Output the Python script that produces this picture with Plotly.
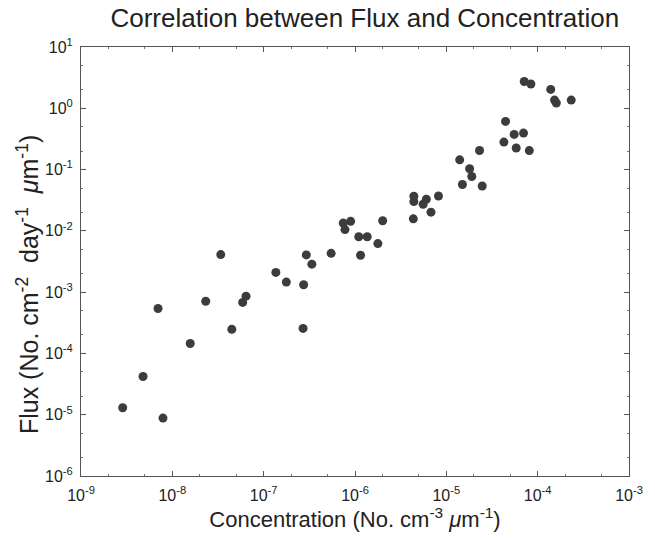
import plotly.graph_objects as go

concentration = [
    2.86e-9, 4.78e-9, 7.9e-9, 6.97e-9, 1.57e-8, 2.32e-8, 3.39e-8, 4.48e-8, 5.89e-8, 6.41e-8,
    1.36e-7, 1.77e-7, 2.70e-7, 2.74e-7, 2.93e-7, 3.37e-7, 5.48e-7, 1.15e-6, 7.43e-7, 7.77e-7,
    8.95e-7, 1.10e-6, 1.36e-6, 1.78e-6, 2.01e-6, 4.35e-6, 4.41e-6, 4.41e-6, 5.57e-6, 6.04e-6,
    6.79e-6, 8.2e-6, 1.40e-5, 1.50e-5, 1.80e-5, 1.90e-5, 2.31e-5, 2.47e-5, 4.27e-5, 4.45e-5,
    5.53e-5, 5.82e-5, 7.0e-5, 8.1e-5, 7.13e-5, 8.43e-5, 1.39e-4, 1.53e-4, 1.60e-4, 2.33e-4,
]
flux = [
    1.30e-5, 4.2e-5, 8.8e-6, 5.4e-4, 1.45e-4, 7.1e-4, 4.1e-3, 2.47e-4, 6.8e-4, 8.6e-4,
    2.1e-3, 1.46e-3, 2.56e-4, 1.32e-3, 4.05e-3, 2.86e-3, 4.3e-3, 4.0e-3, 1.34e-2, 1.05e-2,
    1.43e-2, 8.0e-3, 8.0e-3, 6.2e-3, 1.46e-2, 1.57e-2, 3.67e-2, 3.0e-2, 2.72e-2, 3.28e-2,
    2.02e-2, 3.71e-2, 0.144, 5.7e-2, 0.103, 7.7e-2, 0.205, 5.4e-2, 0.281, 0.61,
    0.375, 0.225, 0.394, 0.204, 2.74, 2.49, 2.03, 1.36, 1.22, 1.36,
]

x_exponents = [-9, -8, -7, -6, -5, -4, -3]
y_exponents = [-6, -5, -4, -3, -2, -1, 0, 1]

FONT = "Liberation Sans, Arial, Helvetica"

fig = go.Figure(go.Scatter(
    x=concentration, y=flux, mode="markers",
    marker=dict(size=9, color="#3c3c3c", line=dict(width=0)),
    showlegend=False,
))

axis_common = dict(
    type="log", showgrid=False, zeroline=False,
    showline=True, linecolor="#555555", linewidth=1, mirror="allticks",
    ticks="inside", ticklen=5, tickcolor="#555555",
    minor=dict(ticks="inside", ticklen=2, tickcolor="#777777"),
)

fig.update_xaxes(
    **axis_common,
    range=[-9, -3],
    tickmode="array",
    tickvals=[10 ** e for e in x_exponents],
    ticktext=[f"10<sup>{e}</sup>" for e in x_exponents],
    tickfont=dict(family=FONT, size=16, color="#222222"),
    ticklabelstandoff=5,
    title=dict(text="Concentration (No. cm<sup>-3</sup> <i>μ</i>m<sup>-1</sup>)",
               font=dict(family=FONT, size=22, color="#222222"),
               standoff=8),
)
fig.update_yaxes(
    **axis_common,
    range=[-6, 1],
    tickmode="array",
    tickvals=[10 ** e for e in y_exponents],
    ticktext=[f"10<sup>{e}</sup>" for e in y_exponents],
    tickfont=dict(family=FONT, size=16, color="#222222"),
    ticklabelstandoff=4,
)

fig.add_annotation(
    text="Flux (No. cm<sup>-2</sup>  day<sup>-1</sup>  <i>μ</i>m<sup>-1</sup>)",
    xref="paper", yref="paper", x=-0.097, y=0.447,
    xanchor="center", yanchor="middle", textangle=-90, showarrow=False,
    font=dict(family=FONT, size=25, color="#222222"),
)

fig.update_layout(
    width=655, height=540,
    margin=dict(l=81, r=17, t=47, b=61),
    paper_bgcolor="white", plot_bgcolor="white",
    title=dict(text="Correlation between Flux and Concentration",
               font=dict(family=FONT, size=26, color="#222222"),
               x=0.557, xanchor="center", y=0.966, yanchor="middle"),
)

fig.write_html("out.html")
